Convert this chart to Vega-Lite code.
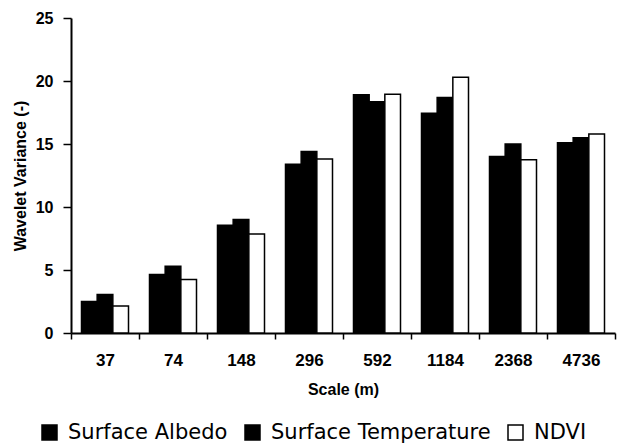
{
  "$schema": "https://vega.github.io/schema/vega-lite/v6.json",
  "autosize": {"type": "none"},
  "padding": {"left": 71, "top": 18, "right": 5, "bottom": 111},
  "width": 544,
  "height": 315,
  "background": "white",
  "data": {
    "values": [
      {"scale": "37", "series": "Surface Albedo", "value": 2.5},
      {"scale": "37", "series": "Surface Temperature", "value": 3.05},
      {"scale": "37", "series": "NDVI", "value": 2.15},
      {"scale": "74", "series": "Surface Albedo", "value": 4.65},
      {"scale": "74", "series": "Surface Temperature", "value": 5.3},
      {"scale": "74", "series": "NDVI", "value": 4.25},
      {"scale": "148", "series": "Surface Albedo", "value": 8.55},
      {"scale": "148", "series": "Surface Temperature", "value": 9.0},
      {"scale": "148", "series": "NDVI", "value": 7.85},
      {"scale": "296", "series": "Surface Albedo", "value": 13.4},
      {"scale": "296", "series": "Surface Temperature", "value": 14.4},
      {"scale": "296", "series": "NDVI", "value": 13.8},
      {"scale": "592", "series": "Surface Albedo", "value": 18.9},
      {"scale": "592", "series": "Surface Temperature", "value": 18.35},
      {"scale": "592", "series": "NDVI", "value": 18.95},
      {"scale": "1184", "series": "Surface Albedo", "value": 17.45},
      {"scale": "1184", "series": "Surface Temperature", "value": 18.7},
      {"scale": "1184", "series": "NDVI", "value": 20.3},
      {"scale": "2368", "series": "Surface Albedo", "value": 14.0},
      {"scale": "2368", "series": "Surface Temperature", "value": 15.0},
      {"scale": "2368", "series": "NDVI", "value": 13.75},
      {"scale": "4736", "series": "Surface Albedo", "value": 15.1},
      {"scale": "4736", "series": "Surface Temperature", "value": 15.5},
      {"scale": "4736", "series": "NDVI", "value": 15.8}
    ]
  },
  "mark": {"type": "bar", "stroke": "black", "strokeWidth": 1.5},
  "encoding": {
    "x": {
      "field": "scale",
      "type": "nominal",
      "sort": ["37", "74", "148", "296", "592", "1184", "2368", "4736"],
      "scale": {"paddingInner": 0, "paddingOuter": 0},
      "axis": {
        "title": "Scale (m)",
        "labelAngle": 0,
        "tickBand": "extent",
        "tickSize": 6,
        "labelPadding": 13,
        "titlePadding": 13,
        "labelFontSize": 17
      }
    },
    "xOffset": {
      "field": "series",
      "sort": ["Surface Albedo", "Surface Temperature", "NDVI"],
      "scale": {"paddingInner": 0, "paddingOuter": 0.67}
    },
    "y": {
      "field": "value",
      "type": "quantitative",
      "scale": {"domain": [0, 25], "nice": false},
      "axis": {
        "title": "Wavelet Variance (-)",
        "values": [0, 5, 10, 15, 20, 25],
        "tickSize": 8,
        "labelPadding": 10,
        "titlePadding": 7,
        "labelFontSize": 16
      }
    },
    "color": {
      "field": "series",
      "type": "nominal",
      "scale": {
        "domain": ["Surface Albedo", "Surface Temperature", "NDVI"],
        "range": ["black", "black", "white"]
      },
      "legend": {
        "title": null,
        "orient": "none",
        "direction": "horizontal",
        "legendX": -32,
        "legendY": 404,
        "symbolType": "square",
        "symbolSize": 225,
        "symbolStrokeColor": "black",
        "symbolStrokeWidth": 1.5,
        "labelFont": "DejaVu Sans",
        "labelFontSize": 21,
        "labelColor": "black",
        "labelOffset": 8,
        "labelLimit": 500,
        "columnPadding": 14,
        "padding": 0
      }
    }
  },
  "config": {
    "view": {"stroke": null},
    "axis": {
      "grid": false,
      "domainColor": "black",
      "domainWidth": 2,
      "tickColor": "black",
      "tickWidth": 1.5,
      "labelColor": "black",
      "labelFont": "Liberation Sans",
      "labelFontWeight": "bold",
      "titleColor": "black",
      "titleFont": "Liberation Sans",
      "titleFontWeight": "bold",
      "titleFontSize": 16
    }
  }
}
